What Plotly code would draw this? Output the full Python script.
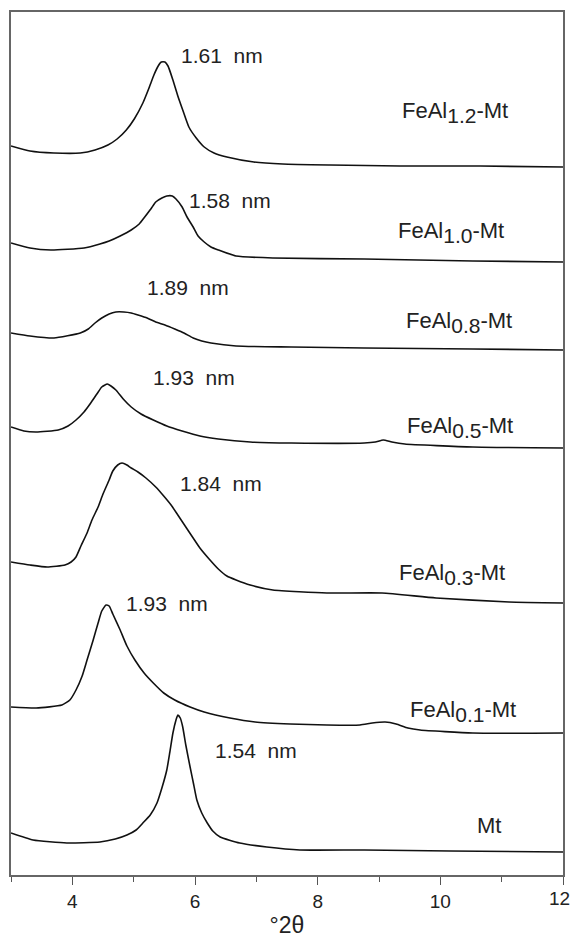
import plotly.graph_objects as go

# ---- data (2theta in degrees, intensity in arbitrary units incl. stacking) ----
names = ["FeAl1.2-Mt", "FeAl1.0-Mt", "FeAl0.8-Mt", "FeAl0.5-Mt", "FeAl0.3-Mt", "FeAl0.1-Mt", "Mt"]

x_feal12 = [3.00, 3.31, 3.70, 4.13, 4.37, 4.58, 4.73, 4.88, 5.01, 5.15, 5.25, 5.33, 5.40, 5.45, 5.51, 5.56,
            5.64, 5.72, 5.80, 5.90, 6.02, 6.15, 6.31, 6.52, 6.96, 7.43, 8.20, 9.34, 10.65, 12.00]
y_feal12 = [729, 724, 722, 722, 725, 730, 736, 745, 756, 772, 787, 800, 809, 813, 813, 809,
            795, 779, 765, 748, 737, 728, 722, 718, 713, 711, 710, 709, 709, 708]

x_feal10 = [3.00, 3.31, 3.65, 4.19, 4.45, 4.60, 4.78, 4.96, 5.09, 5.18, 5.28, 5.36, 5.46, 5.54, 5.63, 5.69,
            5.79, 5.87, 5.97, 6.05, 6.15, 6.26, 6.38, 6.67, 7.27, 8.76, 10.53, 12.00]
y_feal10 = [632, 627, 625, 627, 631, 634, 639, 645, 651, 658, 666, 673, 677, 679, 679, 676,
            668, 658, 648, 639, 633, 628, 625, 619, 617, 616, 614, 613]

x_feal08 = [3.00, 3.31, 3.70, 4.13, 4.26, 4.37, 4.48, 4.60, 4.71, 4.84, 4.96, 5.07, 5.22, 5.36, 5.51, 5.67,
            5.82, 5.97, 6.11, 6.26, 6.67, 7.57, 8.76, 10.53, 12.00]
y_feal08 = [542, 539, 537, 542, 546, 552, 557, 561, 563, 563, 562, 560, 557, 553, 550, 546,
            542, 537, 534, 532, 529, 528, 527, 526, 525]

x_feal05 = [3.00, 3.21, 3.41, 3.77, 3.93, 4.06, 4.19, 4.30, 4.40, 4.48, 4.57, 4.63, 4.71, 4.83, 4.96, 5.12,
            5.32, 5.54, 5.79, 6.08, 6.38, 6.90, 7.57, 8.76, 8.94, 9.07, 9.21, 9.42, 10.53, 12.00]
y_feal05 = [448, 444, 443, 445, 449, 455, 463, 472, 481, 488, 491, 489, 485, 476, 468, 461,
            455, 449, 444, 439, 436, 433, 432, 432, 433, 435, 433, 431, 428, 427]

x_feal03 = [3.00, 3.31, 3.59, 3.88, 3.98, 4.06, 4.14, 4.24, 4.32, 4.42, 4.50, 4.60, 4.66, 4.74, 4.81, 4.89,
            4.96, 5.07, 5.20, 5.36, 5.49, 5.61, 5.72, 5.85, 5.97, 6.08, 6.23, 6.38, 6.52, 6.67, 6.90,
            7.27, 8.15, 9.05, 9.93, 11.12, 12.00]
y_feal03 = [313, 310, 308, 310, 313, 318, 329, 342, 355, 368, 381, 395, 404, 410, 412, 410,
            407, 403, 397, 388, 379, 370, 360, 348, 337, 327, 316, 306, 299, 295, 290,
            285, 282, 282, 277, 273, 272]

x_feal01 = [3.00, 3.41, 3.83, 3.96, 4.06, 4.16, 4.24, 4.34, 4.42, 4.48, 4.55, 4.60, 4.66, 4.78, 4.89, 5.02,
            5.17, 5.32, 5.49, 5.67, 5.92, 6.15, 6.57, 6.98, 7.55, 8.15, 8.69, 8.89, 9.10, 9.28, 9.47,
            9.67, 10.53, 12.00]
y_feal01 = [168, 167, 170, 175, 185, 199, 215, 235, 252, 264, 270, 269, 261, 245, 229, 215,
            202, 192, 182, 175, 168, 163, 157, 153, 151, 150, 150, 152, 153, 151, 147,
            145, 142, 142]

x_mt = [3.00, 3.36, 3.91, 4.45, 4.70, 4.89, 5.04, 5.15, 5.27, 5.38, 5.46, 5.54, 5.59, 5.64, 5.69, 5.72,
        5.76, 5.80, 5.85, 5.92, 5.98, 6.03, 6.11, 6.20, 6.29, 6.41, 6.73, 7.17, 7.71, 8.76, 10.16, 12.00]
y_mt = [42, 35, 32, 33, 36, 40, 45, 52, 60, 72, 87, 105, 123, 142, 155, 160,
        157, 148, 130, 108, 90, 75, 62, 52, 44, 38, 32, 28, 25, 25, 24, 23]

d_spacing = ["1.61 nm", "1.58 nm", "1.89 nm", "1.93 nm", "1.84 nm", "1.93 nm", "1.54 nm"]
sample_main = ["FeAl", "FeAl", "FeAl", "FeAl", "FeAl", "FeAl", "Mt"]
sample_sub = ["1.2", "1.0", "0.8", "0.5", "0.3", "0.1", ""]
tick_vals = [4, 6, 8, 10, 12]
tick_text = ["4", "6", "8", "10", "12"]

xs = [x_feal12, x_feal10, x_feal08, x_feal05, x_feal03, x_feal01, x_mt]
ys = [y_feal12, y_feal10, y_feal08, y_feal05, y_feal03, y_feal01, y_mt]

# annotation anchor positions (2theta, a.u.)
d_pos = [(5.74, 820), (5.87, 675), (5.18, 588), (5.28, 498), (5.72, 392), (4.84, 272), (6.29, 125)]
s_pos = [(9.34, 763), (9.28, 643), (9.41, 553), (9.42, 448), (9.29, 301), (9.47, 164), (10.57, 50)]

FONT = "Liberation Sans, Arial, sans-serif"

fig = go.Figure()
for n, x, y in zip(names, xs, ys):
    fig.add_trace(go.Scatter(x=x, y=y, mode="lines", name=n,
                             line=dict(color="#111111", width=1.6, shape="spline", smoothing=0.5),
                             showlegend=False, hoverinfo="skip"))

ann = []
for t, (ax, ay) in zip(d_spacing, d_pos):
    ann.append(dict(x=ax, y=ay, text=t.replace(" ", "&nbsp;&nbsp;"), showarrow=False, xanchor="left",
                    yanchor="middle", font=dict(family=FONT, size=21, color="#222222")))
for m, s, (ax, ay) in zip(sample_main, sample_sub, s_pos):
    if s:
        txt = m + "<sub><span style='font-size:21px'>" + s + "</span></sub>-Mt"
    else:
        txt = m
    ann.append(dict(x=ax, y=ay, text=txt, showarrow=False, xanchor="left",
                    yanchor="middle", font=dict(family=FONT, size=22, color="#222222")))

# the last tick label sits at the page edge: draw it as an annotation nudged inside the page
ann.append(dict(x=tick_vals[-1], xref="x", y=0, yref="paper", text=tick_text[-1], showarrow=False,
                xanchor="right", yanchor="top", xshift=8, yshift=-12, borderpad=0,
                font=dict(family=FONT, size=19, color="#222222")))

fig.update_layout(
    width=570, height=938,
    margin=dict(l=11, r=7, t=12, b=63),
    paper_bgcolor="white", plot_bgcolor="white",
    annotations=ann,
    font=dict(family=FONT, color="#222222"),
)
fig.update_xaxes(range=[3, 12], tickvals=tick_vals, ticktext=tick_text[:-1] + [""],
                 ticks="outside", ticklen=8, tickwidth=1.2, automargin=False,
                 tickcolor="#555555", showline=True, linecolor="#666666", linewidth=1.5, mirror=True,
                 showgrid=False, zeroline=False,
                 tickfont=dict(family=FONT, size=19, color="#222222"),
                 minor=dict(tickvals=[3, 5, 7, 9, 11], ticks="outside", ticklen=5, tickcolor="#555555",
                            tickwidth=1.2, showgrid=False),
                 title=dict(text="°2θ", font=dict(family=FONT, size=23, color="#222222"), standoff=10))
fig.update_yaxes(range=[0, 863], showticklabels=False, ticks="", showline=True, linecolor="#666666",
                 linewidth=1.5, mirror=True, showgrid=False, zeroline=False, automargin=False)

fig.write_html("out.html")
